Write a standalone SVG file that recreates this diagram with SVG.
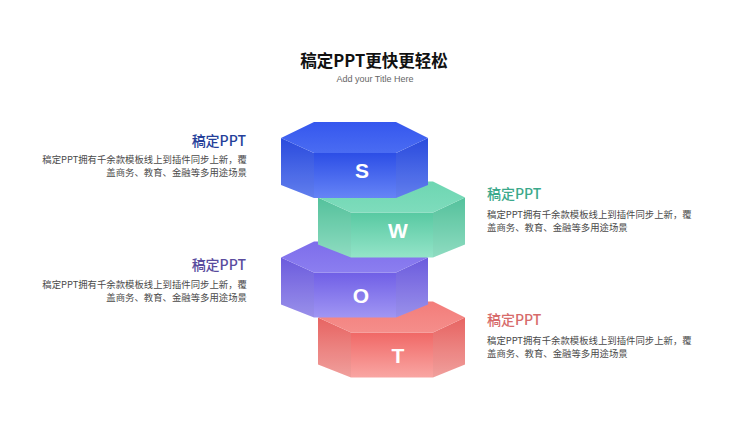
<svg xmlns="http://www.w3.org/2000/svg" width="750" height="422" viewBox="0 0 750 422">
<defs>
<linearGradient id="sF" x1="0" y1="0" x2="0" y2="1"><stop offset="0" stop-color="#2c4ee6"/><stop offset="1" stop-color="#6684f6"/></linearGradient>
<linearGradient id="sT" x1="0" y1="0" x2="0" y2="1"><stop offset="0" stop-color="#3557ee"/><stop offset="1" stop-color="#4a6cf2"/></linearGradient>
<linearGradient id="wF" x1="0" y1="0" x2="0" y2="1"><stop offset="0" stop-color="#58c9a2"/><stop offset="1" stop-color="#94e4c8"/></linearGradient>
<linearGradient id="wT" x1="0" y1="0" x2="0" y2="1"><stop offset="0" stop-color="#6ed6b2"/><stop offset="1" stop-color="#7edcbc"/></linearGradient>
<linearGradient id="oF" x1="0" y1="0" x2="0" y2="1"><stop offset="0" stop-color="#705fe6"/><stop offset="1" stop-color="#a096f3"/></linearGradient>
<linearGradient id="oT" x1="0" y1="0" x2="0" y2="1"><stop offset="0" stop-color="#7e6eeb"/><stop offset="1" stop-color="#8b7ef0"/></linearGradient>
<linearGradient id="tF" x1="0" y1="0" x2="0" y2="1"><stop offset="0" stop-color="#f06866"/><stop offset="1" stop-color="#f9a6a3"/></linearGradient>
<linearGradient id="tT" x1="0" y1="0" x2="0" y2="1"><stop offset="0" stop-color="#f37d7a"/><stop offset="1" stop-color="#f58e8b"/></linearGradient>
<polygon id="top" points="314,122 396,122 428,138 396,153 314,153 281,138"/>
<polygon id="lf" points="281,138 314,153 314,198 281,185"/>
<polygon id="fr" points="314,153 396,153 396,198 314,198"/>
<polygon id="rf" points="396,153 428,138 428,185 396,198"/>
</defs>
<style>
.cjk{font-family:"Noto Sans CJK SC","Noto Sans",sans-serif}
.ttl{font-size:16.5px;font-weight:bold;fill:#111}
.sub{font-family:"Liberation Sans",Arial,sans-serif;font-size:9px;fill:#666}
.hd{font-size:14px;font-weight:500}
.bd{font-size:9.4px;fill:#4a4a4a}
.ltr{font-family:"Liberation Sans",Arial,sans-serif;font-weight:bold;font-size:21px;fill:#fff;text-anchor:middle}
.shade{fill:#000;opacity:0.035}
</style>
<rect width="750" height="422" fill="#fff"/>
<g id="title">
<text class="cjk ttl" x="374" y="67" text-anchor="middle">稿定PPT更快更轻松</text>
<text class="sub" x="375" y="82" text-anchor="middle">Add your Title Here</text>
</g>
<g id="node-T" transform="translate(37,179.5)">
<use href="#lf" fill="url(#tF)"/><use href="#lf" class="shade"/>
<use href="#fr" fill="url(#tF)"/>
<use href="#rf" fill="url(#tF)"/><use href="#rf" class="shade"/>
<use href="#top" fill="url(#tT)"/>
<text class="ltr" x="361" y="183">T</text>
</g>
<g id="node-O" transform="translate(0,119.5)">
<use href="#lf" fill="url(#oF)"/><use href="#lf" class="shade"/>
<use href="#fr" fill="url(#oF)"/>
<use href="#rf" fill="url(#oF)"/><use href="#rf" class="shade"/>
<use href="#top" fill="url(#oT)"/>
<text class="ltr" x="361" y="183">O</text>
</g>
<g id="node-W" transform="translate(37,59.5)">
<use href="#lf" fill="url(#wF)"/><use href="#lf" class="shade"/>
<use href="#fr" fill="url(#wF)"/>
<use href="#rf" fill="url(#wF)"/><use href="#rf" class="shade"/>
<use href="#top" fill="url(#wT)"/>
<text class="ltr" x="361" y="178">W</text>
</g>
<g id="node-S">
<use href="#lf" fill="url(#sF)"/><use href="#lf" class="shade"/>
<use href="#fr" fill="url(#sF)"/>
<use href="#rf" fill="url(#sF)"/><use href="#rf" class="shade"/>
<use href="#top" fill="url(#sT)"/>
<text class="ltr" x="362" y="178">S</text>
</g>
<g id="label-S" class="cjk" text-anchor="end">
<text class="hd" x="246" y="146" fill="#253f9a">稿定PPT</text>
<text class="bd" x="247" y="163">稿定PPT拥有千余款模板线上到插件同步上新，覆</text>
<text class="bd" x="247" y="176">盖商务、教育、金融等多用途场景</text>
</g>
<g id="label-W" class="cjk">
<text class="hd" x="487" y="199" fill="#3ba98b">稿定PPT</text>
<text class="bd" x="487" y="218">稿定PPT拥有千余款模板线上到插件同步上新，覆</text>
<text class="bd" x="487" y="231">盖商务、教育、金融等多用途场景</text>
</g>
<g id="label-O" class="cjk" text-anchor="end">
<text class="hd" x="246" y="270" fill="#5a4c9e">稿定PPT</text>
<text class="bd" x="247" y="288">稿定PPT拥有千余款模板线上到插件同步上新，覆</text>
<text class="bd" x="247" y="301">盖商务、教育、金融等多用途场景</text>
</g>
<g id="label-T" class="cjk">
<text class="hd" x="487" y="325" fill="#d76b6b">稿定PPT</text>
<text class="bd" x="487" y="344">稿定PPT拥有千余款模板线上到插件同步上新，覆</text>
<text class="bd" x="487" y="357">盖商务、教育、金融等多用途场景</text>
</g>
<g id="connectors"/>
</svg>
